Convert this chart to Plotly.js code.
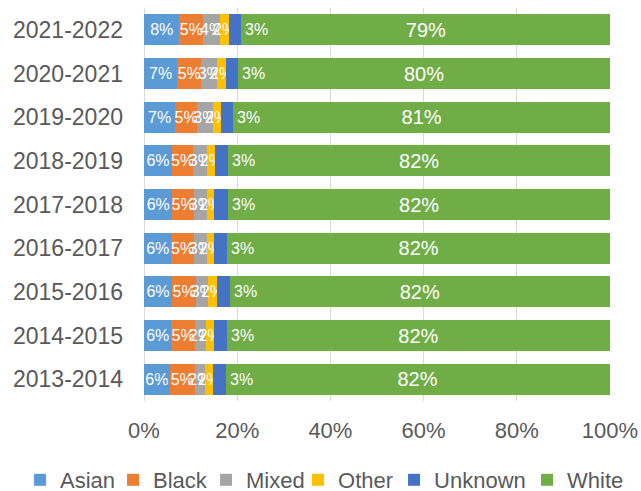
<!DOCTYPE html>
<html>
<head>
<meta charset="utf-8">
<script src="https://cdn.plot.ly/plotly-3.0.1.min.js"></script>
<style>html,body{margin:0;padding:0;background:#fff;}#chart{width:641px;height:491px;}</style>
</head>
<body>
<div id="chart"></div>
<script>
const years = ["2013-2014","2014-2015","2015-2016","2016-2017","2017-2018","2018-2019","2019-2020","2020-2021","2021-2022"];
const asian   = [5.5, 5.9, 6.0, 5.9, 6.1, 6.0, 6.7, 7.1, 7.6];
const black   = [5.4, 5.0, 5.2, 4.8, 4.6, 4.6, 4.7, 5.2, 5.1];
const mixed   = [2.1, 2.4, 2.6, 2.8, 2.8, 3.0, 3.3, 3.4, 3.6];
const other   = [1.9, 1.7, 1.8, 1.5, 1.6, 1.7, 1.8, 1.9, 2.0];
const unknown = [2.6, 2.8, 2.8, 2.9, 2.9, 2.8, 2.7, 2.6, 2.6];
const white   = [82.4, 82.2, 81.6, 82.1, 82.1, 81.9, 80.8, 79.8, 79.2];

const seriesNames = ["Asian","Black","Mixed","Other","Unknown","White"];
const seriesVals = [asian, black, mixed, other, unknown, white];
const colors = ["#5B9BD5","#ED7D31","#A5A5A5","#FFC000","#4472C4","#70AD47"];
const legendWidths = [48, 48, 47, 51, 88, 58];
const FONT = "Liberation Sans, Arial, sans-serif";

const traces = seriesNames.map((name, i) => {
  const t = {
    type: "bar",
    orientation: "h",
    name: name,
    y: years,
    x: seriesVals[i],
    marker: {color: colors[i], line: {width: 0}},
    legendwidth: legendWidths[i],
    hoverinfo: "name+x"
  };
  if (name !== "Unknown") {
    t.texttemplate = "%{x:.0f}%";
    t.textposition = "inside";
    t.insidetextanchor = "middle";
    t.constraintext = "none";
    t.textangle = 0;
    t.textfont = {color: "#ffffff", size: name === "White" ? 20 : 16, family: FONT};
  }
  return t;
});

// Unknown labels sit just past the end of the Unknown segment
const annotations = years.map((y, j) => {
  const end = asian[j] + black[j] + mixed[j] + other[j] + unknown[j];
  return {
    x: end, y: y, xref: "x", yref: "y",
    text: Math.round(unknown[j]) + "%",
    showarrow: false, xanchor: "left", xshift: 2,
    font: {color: "#ffffff", size: 16, family: FONT}
  };
});

const layout = {
  width: 641, height: 491,
  margin: {l: 144, r: 31, t: 8, b: 90, autoexpand: false},
  paper_bgcolor: "#ffffff", plot_bgcolor: "#ffffff",
  barmode: "stack",
  bargap: 0.29,
  font: {family: FONT, color: "#595959"},
  xaxis: {
    range: [0, 100], dtick: 20, ticksuffix: "%",
    showgrid: true, gridcolor: "#D9D9D9", gridwidth: 1,
    zeroline: true, zerolinecolor: "#D9D9D9", zerolinewidth: 1,
    showline: false, ticks: "",
    tickfont: {size: 22, color: "#595959", family: FONT},
    ticklabelstandoff: 14,
    fixedrange: true
  },
  yaxis: {
    type: "category", categoryorder: "array", categoryarray: years,
    showgrid: false, zeroline: false, showline: false, ticks: "",
    tickfont: {size: 23, color: "#595959", family: FONT},
    ticklabelstandoff: 20,
    fixedrange: true
  },
  legend: {
    orientation: "h", x: -0.266, xanchor: "left", xref: "paper",
    y: -0.201, yanchor: "middle", yref: "paper",
    font: {size: 22, color: "#595959", family: FONT},
    traceorder: "normal", itemclick: false, itemdoubleclick: false,
    tracegroupgap: 0
  },
  annotations: annotations,
  showlegend: true
};

Plotly.newPlot("chart", traces, layout, {displayModeBar: false, staticPlot: true});
</script>
</body>
</html>
